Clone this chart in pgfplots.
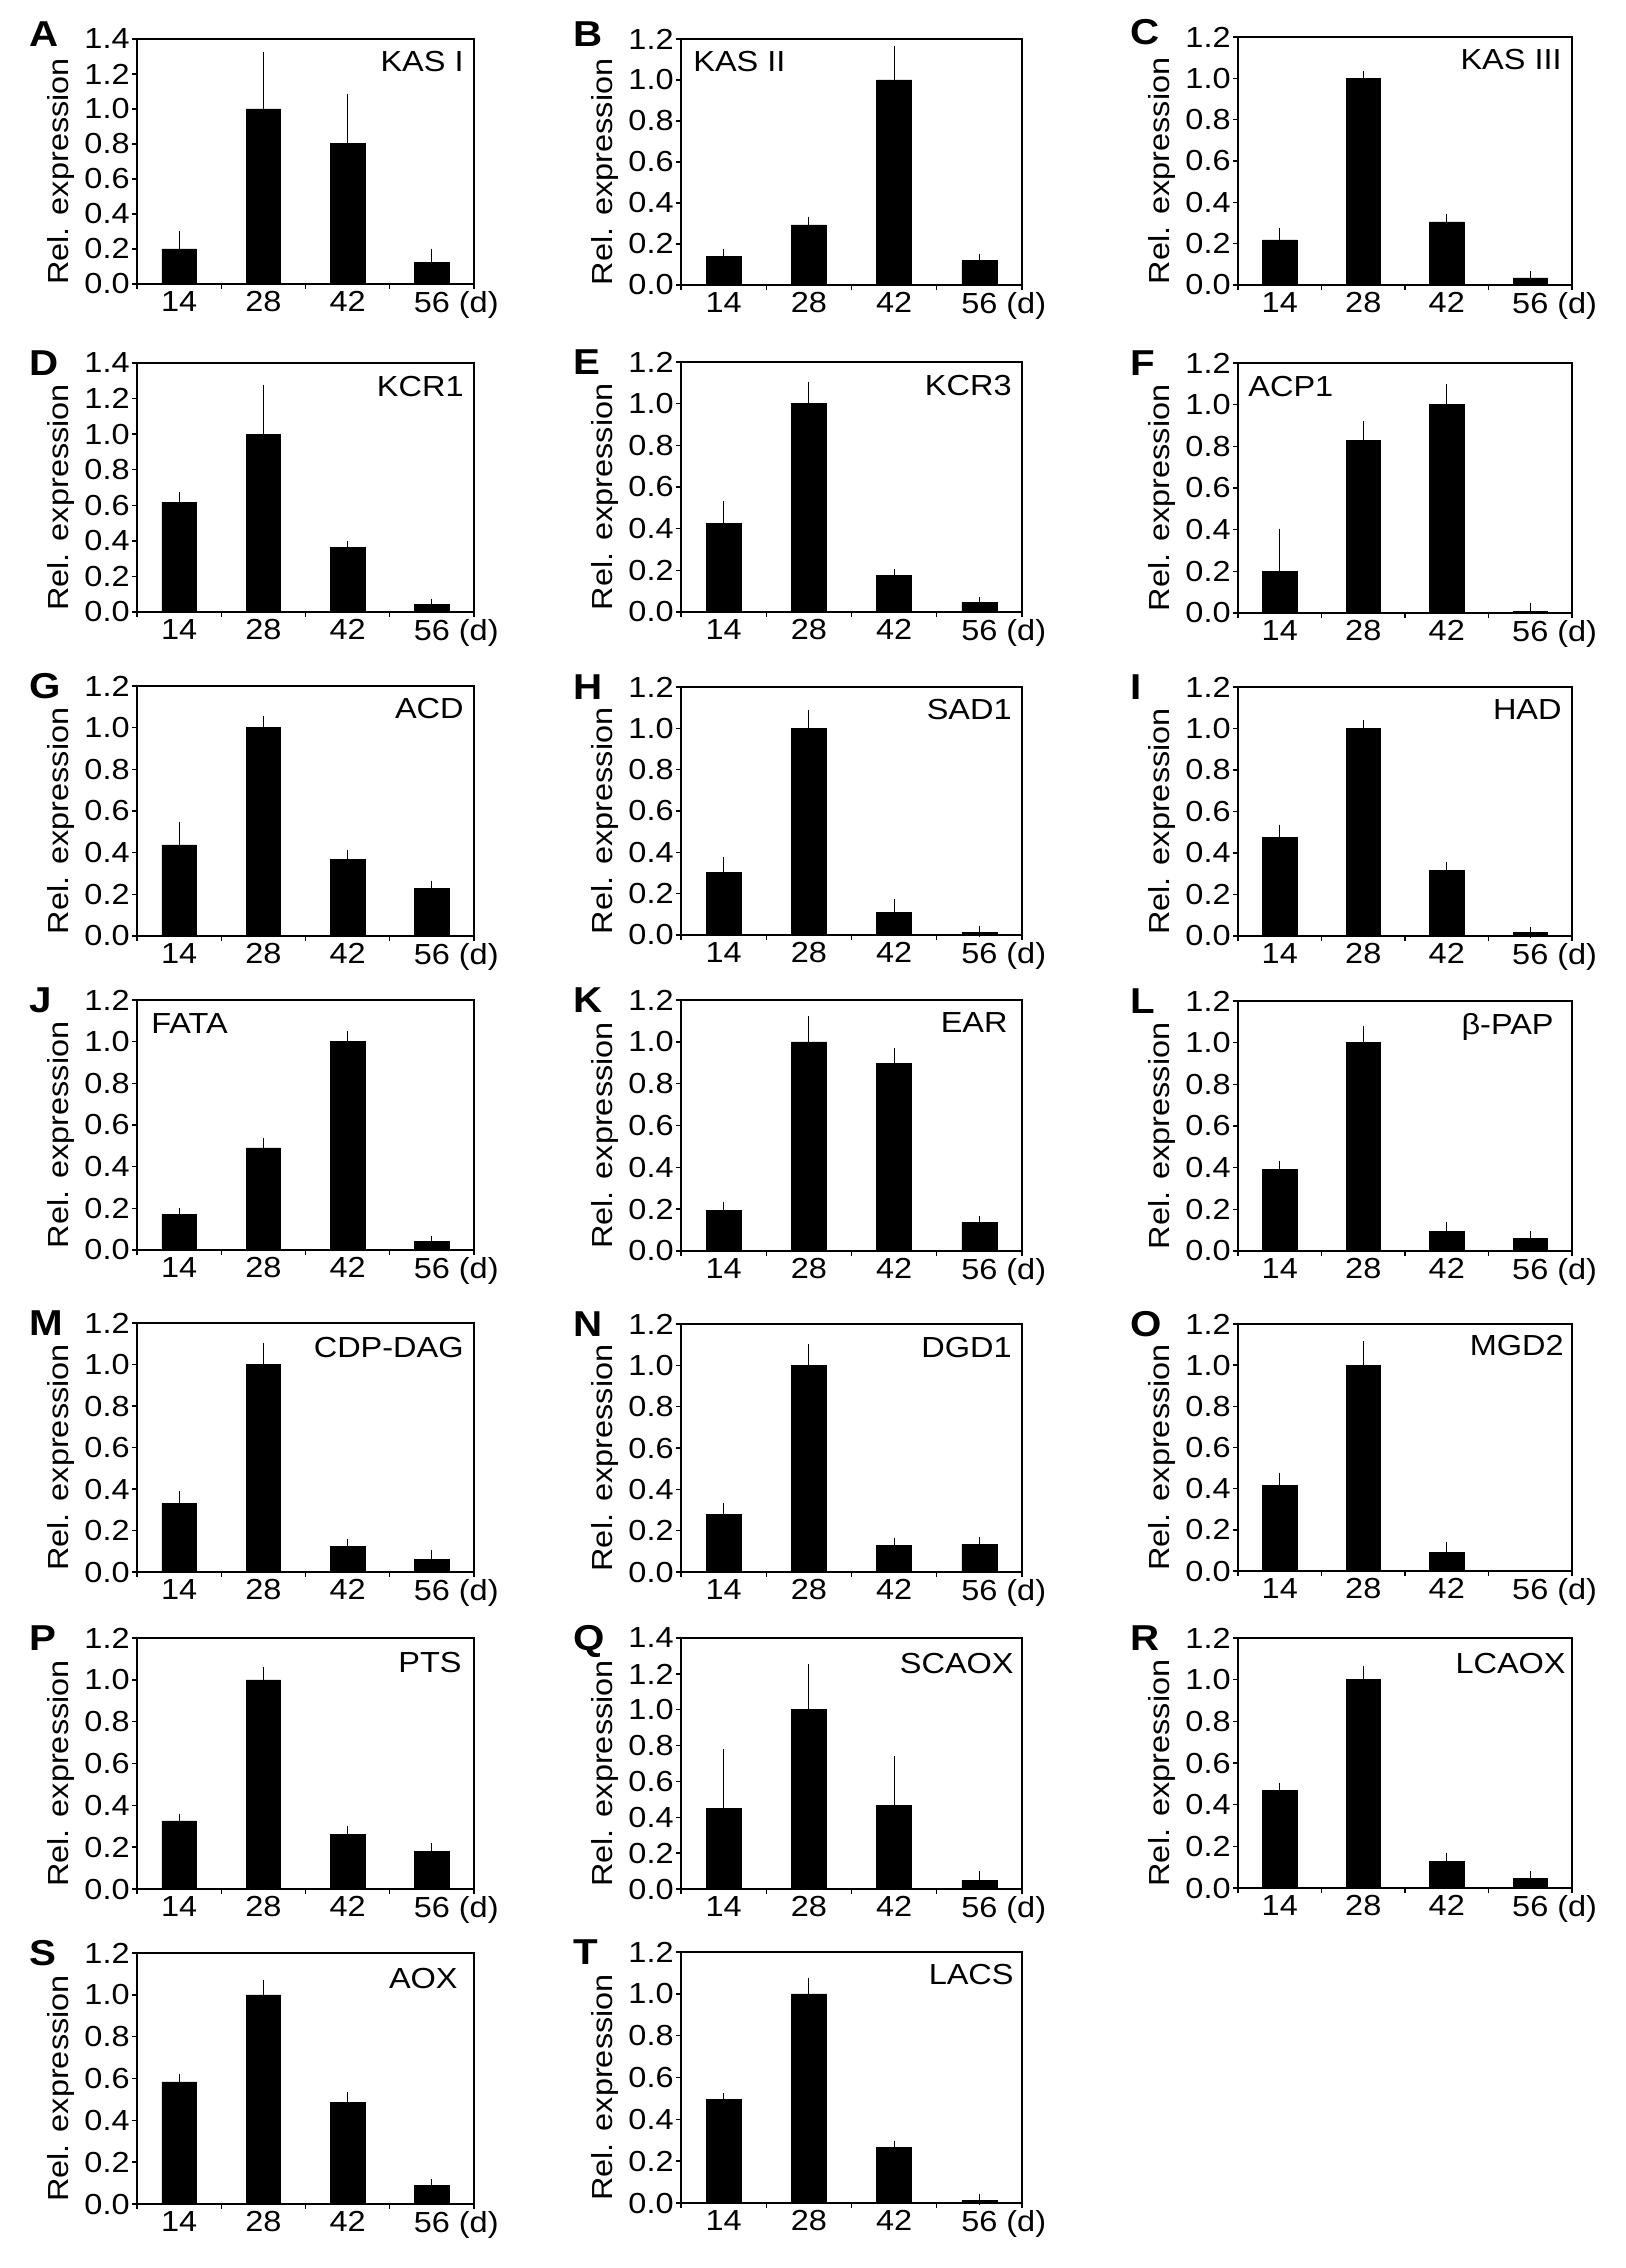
\documentclass[border=0pt]{standalone}
\usepackage{fontspec}
\setmainfont{Liberation Sans}[FakeStretch=1.12]
\usepackage{pgfplots}
\pgfplotsset{compat=1.18}
\newcommand{\tf}{\fontsize{14.5}{16}\selectfont}
\pgfplotsset{
  panel/.style={
    scale only axis, anchor=south west,
    xmin=0, xmax=4, ymin=0,
    axis line style={line width=0.7pt},
    every tick/.style={line width=0.7pt, black},
    tick align=outside, tick pos=left,
    xtick={0,1,2,3,4},
    xticklabels={14,28,42,56\rlap{\ (d)},{}},
    major tick length=2.5pt,
    /pgf/number format/assume math mode=true,
    yticklabel style={/pgf/number format/.cd, fixed, fixed zerofill, precision=1, /tikz/.cd, inner sep=1pt, font=\tf},
    xticklabel style={inner sep=1pt, font=\tf},
    ybar, bar width=0.41,
    clip=false,
    ylabel={Rel. expression},
    ylabel style={at={([xshift=-38pt,yshift=-5pt]rel axis cs:0,0.5)}, anchor=center, inner sep=0pt, font=\tf},
  },
  c1/.style={width=168.5pt, xticklabel style={xshift=21.06pt}},
  c2/.style={width=170.5pt, xticklabel style={xshift=21.31pt}},
  c3/.style={width=167pt, xticklabel style={xshift=20.88pt}},
  y12/.style={ymax=1.2, ytick={0,0.2,0.4,0.6,0.8,1.0,1.2}},
  y14/.style={ymax=1.4, ytick={0,0.2,0.4,0.6,0.8,1.0,1.2,1.4}},
  barsty/.style={fill=black, draw=black, line width=0.3pt,
    error bars/.cd, y dir=plus, y explicit,
    error bar style={line width=0.6pt, black},
    error mark options={line width=0.6pt, mark size=2.75pt, black}},
}
\tikzset{
  letter/.style={anchor=base west, inner sep=0pt, font=\fontsize{18}{18}\selectfont\bfseries},
  gr/.style={anchor=base east, inner sep=0pt, font=\tf},
  gl/.style={anchor=base west, inner sep=0pt, font=\tf},
}
\begin{document}
\tf
\begin{tikzpicture}
\path[use as bounding box, fill=white] (0,0) rectangle (813pt,-1134pt);

% ---- Row 1
\begin{axis}[panel, c1, y14, at={(68.5pt,-142pt)}, height=122.5pt]
\addplot[barsty] coordinates {(0.5,0.20) +- (0,0.07) (1.5,1.00) +- (0,0.297) (2.5,0.804) +- (0,0.25) (3.5,0.125) +- (0,0.046)};
\node[letter] at ([xshift=-54pt,yshift=-4pt]rel axis cs:0,1) {A};
\node[gr] at ([xshift=-5pt,yshift=-16.5pt]rel axis cs:1,1) {KAS I};
\end{axis}
\begin{axis}[panel, c2, y12, at={(340.5pt,-142.5pt)}, height=123pt]
\addplot[barsty] coordinates {(0.5,0.141) +- (0,0.010) (1.5,0.293) +- (0,0.014) (2.5,1.0) +- (0,0.137) (3.5,0.119) +- (0,0.005)};
\node[letter] at ([xshift=-54pt,yshift=-4pt]rel axis cs:0,1) {B};
\node[gl] at ([xshift=6pt,yshift=-16.5pt]rel axis cs:0,1) {KAS II};
\end{axis}
\begin{axis}[panel, c3, y12, at={(619pt,-142.5pt)}, height=124pt]
\addplot[barsty] coordinates {(0.5,0.218) +- (0,0.032) (1.5,1.0) +- (0,0.010) (2.5,0.305) +- (0,0.012) (3.5,0.034) +- (0,0.006)};
\node[letter] at ([xshift=-54pt,yshift=-4pt]rel axis cs:0,1) {C};
\node[gr] at ([xshift=-5pt,yshift=-16.5pt]rel axis cs:1,1) {KAS III};
\end{axis}

% ---- Row 2
\begin{axis}[panel, c1, y14, at={(68.5pt,-306pt)}, height=124.5pt]
\addplot[barsty] coordinates {(0.5,0.617) +- (0,0.024) (1.5,1.0) +- (0,0.243) (2.5,0.364) +- (0,0.007) (3.5,0.041) +- (0,0.004)};
\node[letter] at ([xshift=-54pt,yshift=-6pt]rel axis cs:0,1) {D};
\node[gr] at ([xshift=-5pt,yshift=-16.5pt]rel axis cs:1,1) {KCR1};
\end{axis}
\begin{axis}[panel, c2, y12, at={(340.5pt,-306pt)}, height=125pt]
\addplot[barsty] coordinates {(0.5,0.424) +- (0,0.083) (1.5,1.0) +- (0,0.080) (2.5,0.174) +- (0,0.005) (3.5,0.045) +- (0,0.003)};
\node[letter] at ([xshift=-54pt,yshift=-6pt]rel axis cs:0,1) {E};
\node[gr] at ([xshift=-5pt,yshift=-16.5pt]rel axis cs:1,1) {KCR3};
\end{axis}
\begin{axis}[panel, c3, y12, at={(619pt,-306.5pt)}, height=125pt]
\addplot[barsty] coordinates {(0.5,0.201) +- (0,0.177) (1.5,0.83) +- (0,0.067) (2.5,1.0) +- (0,0.074) (3.5,0.008) +- (0,0.016)};
\node[letter] at ([xshift=-54pt,yshift=-6pt]rel axis cs:0,1) {F};
\node[gl] at ([xshift=5pt,yshift=-16.5pt]rel axis cs:0,1) {ACP1};
\end{axis}

% ---- Row 3
\begin{axis}[panel, c1, y12, at={(68.5pt,-468pt)}, height=125pt]
\addplot[barsty] coordinates {(0.5,0.437) +- (0,0.083) (1.5,1.0) +- (0,0.029) (2.5,0.368) +- (0,0.018) (3.5,0.229) +- (0,0.009)};
\node[letter] at ([xshift=-54pt,yshift=-6pt]rel axis cs:0,1) {G};
\node[gr] at ([xshift=-5pt,yshift=-16pt]rel axis cs:1,1) {ACD};
\end{axis}
\begin{axis}[panel, c2, y12, at={(340.5pt,-467.5pt)}, height=124pt]
\addplot[barsty] coordinates {(0.5,0.302) +- (0,0.050) (1.5,1.0) +- (0,0.061) (2.5,0.108) +- (0,0.039) (3.5,0.011) +- (0,0.004)};
\node[letter] at ([xshift=-54pt,yshift=-6pt]rel axis cs:0,1) {H};
\node[gr] at ([xshift=-5pt,yshift=-16pt]rel axis cs:1,1) {SAD1};
\end{axis}
\begin{axis}[panel, c3, y12, at={(619pt,-468pt)}, height=124.5pt]
\addplot[barsty] coordinates {(0.5,0.477) +- (0,0.032) (1.5,1.0) +- (0,0.015) (2.5,0.318) +- (0,0.011) (3.5,0.018) +- (0,0.001)};
\node[letter] at ([xshift=-54pt,yshift=-6pt]rel axis cs:0,1) {I};
\node[gr] at ([xshift=-5pt,yshift=-16pt]rel axis cs:1,1) {HAD};
\end{axis}

% ---- Row 4
\begin{axis}[panel, c1, y12, at={(68.5pt,-625pt)}, height=125pt]
\addplot[barsty] coordinates {(0.5,0.170) +- (0,0.006) (1.5,0.49) +- (0,0.020) (2.5,1.0) +- (0,0.024) (3.5,0.040) +- (0,0.002)};
\node[letter] at ([xshift=-54pt,yshift=-6pt]rel axis cs:0,1) {J};
\node[gl] at ([xshift=7pt,yshift=-16.5pt]rel axis cs:0,1) {FATA};
\end{axis}
\begin{axis}[panel, c2, y12, at={(340.5pt,-625.5pt)}, height=125.5pt]
\addplot[barsty] coordinates {(0.5,0.195) +- (0,0.014) (1.5,1.0) +- (0,0.099) (2.5,0.897) +- (0,0.046) (3.5,0.136) +- (0,0.003)};
\node[letter] at ([xshift=-54pt,yshift=-6pt]rel axis cs:0,1) {K};
\node[gr] at ([xshift=-7pt,yshift=-16pt]rel axis cs:1,1) {EAR};
\end{axis}
\begin{axis}[panel, c3, y12, at={(619pt,-625.5pt)}, height=125pt]
\addplot[barsty] coordinates {(0.5,0.390) +- (0,0.014) (1.5,1.0) +- (0,0.053) (2.5,0.096) +- (0,0.017) (3.5,0.062) +- (0,0.007)};
\node[letter] at ([xshift=-54pt,yshift=-6pt]rel axis cs:0,1) {L};
\node[gr] at ([xshift=-9pt,yshift=-16.5pt]rel axis cs:1,1) {β-PAP};
\end{axis}

% ---- Row 5
\begin{axis}[panel, c1, y12, at={(68.5pt,-786pt)}, height=124.5pt]
\addplot[barsty] coordinates {(0.5,0.330) +- (0,0.034) (1.5,1.0) +- (0,0.076) (2.5,0.124) +- (0,0.011) (3.5,0.060) +- (0,0.019)};
\node[letter] at ([xshift=-54pt,yshift=-6pt]rel axis cs:0,1) {M};
\node[gr] at ([xshift=-5pt,yshift=-17pt]rel axis cs:1,1) {CDP-DAG};
\end{axis}
\begin{axis}[panel, c2, y12, at={(340.5pt,-786pt)}, height=124pt]
\addplot[barsty] coordinates {(0.5,0.277) +- (0,0.031) (1.5,1.0) +- (0,0.076) (2.5,0.127) +- (0,0.013) (3.5,0.135) +- (0,0.008)};
\node[letter] at ([xshift=-54pt,yshift=-6pt]rel axis cs:0,1) {N};
\node[gr] at ([xshift=-5pt,yshift=-16.5pt]rel axis cs:1,1) {DGD1};
\end{axis}
\begin{axis}[panel, c3, y12, at={(619pt,-785.5pt)}, height=123.5pt]
\addplot[barsty] coordinates {(0.5,0.415) +- (0,0.036) (1.5,1.0) +- (0,0.090) (2.5,0.091) +- (0,0.024)};
\node[letter] at ([xshift=-54pt,yshift=-6pt]rel axis cs:0,1) {O};
\node[gr] at ([xshift=-4pt,yshift=-15.5pt]rel axis cs:1,1) {MGD2};
\end{axis}

% ---- Row 6
\begin{axis}[panel, c1, y12, at={(68.5pt,-944.5pt)}, height=125.5pt]
\addplot[barsty] coordinates {(0.5,0.326) +- (0,0.008) (1.5,1.0) +- (0,0.036) (2.5,0.261) +- (0,0.013) (3.5,0.180) +- (0,0.013)};
\node[letter] at ([xshift=-54pt,yshift=-6pt]rel axis cs:0,1) {P};
\node[gr] at ([xshift=-6pt,yshift=-17pt]rel axis cs:1,1) {PTS};
\end{axis}
\begin{axis}[panel, c2, y14, at={(340.5pt,-944.5pt)}, height=125.5pt]
\addplot[barsty] coordinates {(0.5,0.451) +- (0,0.301) (1.5,1.0) +- (0,0.223) (2.5,0.466) +- (0,0.243) (3.5,0.050) +- (0,0.022)};
\node[letter] at ([xshift=-54pt,yshift=-6pt]rel axis cs:0,1) {Q};
\node[gr] at ([xshift=-4pt,yshift=-17.5pt]rel axis cs:1,1) {SCAOX};
\end{axis}
\begin{axis}[panel, c3, y12, at={(619pt,-944pt)}, height=125pt]
\addplot[barsty] coordinates {(0.5,0.467) +- (0,0.013) (1.5,1.0) +- (0,0.040) (2.5,0.126) +- (0,0.018) (3.5,0.048) +- (0,0.005)};
\node[letter] at ([xshift=-54pt,yshift=-6pt]rel axis cs:0,1) {R};
\node[gr] at ([xshift=-3pt,yshift=-17.5pt]rel axis cs:1,1) {LCAOX};
\end{axis}

% ---- Row 7
\begin{axis}[panel, c1, y12, at={(68.5pt,-1102pt)}, height=125.5pt]
\addplot[barsty] coordinates {(0.5,0.584) +- (0,0.010) (1.5,1.0) +- (0,0.047) (2.5,0.485) +- (0,0.023) (3.5,0.0875) +- (0,0.004)};
\node[letter] at ([xshift=-54pt,yshift=-6pt]rel axis cs:0,1) {S};
\node[gr] at ([xshift=-8pt,yshift=-17.5pt]rel axis cs:1,1) {AOX};
\end{axis}
\begin{axis}[panel, c2, y12, at={(340.5pt,-1101.5pt)}, height=125.5pt]
\addplot[barsty] coordinates {(0.5,0.497) +- (0,0.002) (1.5,1.0) +- (0,0.051) (2.5,0.267) +- (0,0.005) (3.5,0.0127) +- (0,0.002)};
\node[letter] at ([xshift=-54pt,yshift=-6pt]rel axis cs:0,1) {T};
\node[gr] at ([xshift=-4pt,yshift=-16pt]rel axis cs:1,1) {LACS};
\end{axis}
\end{tikzpicture}
\end{document}
